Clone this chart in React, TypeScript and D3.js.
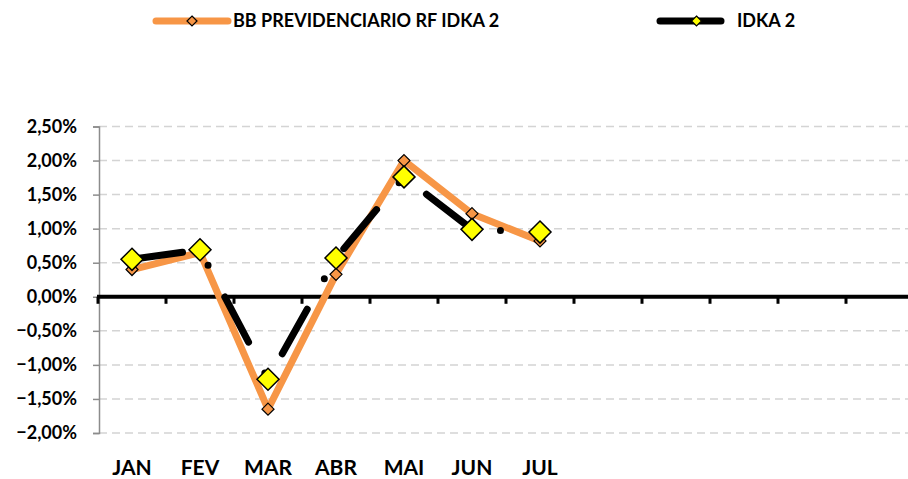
import React, { useRef, useEffect } from 'react';
import * as d3 from 'd3';

const months = ['JAN', 'FEV', 'MAR', 'ABR', 'MAI', 'JUN', 'JUL', '', '', '', '', ''];
const bbValues = [0.4, 0.65, -1.65, 0.33, 2.0, 1.22, 0.82];
const idkaValues = [0.55, 0.69, -1.21, 0.57, 1.76, 0.99, 0.95];
const yTicks = [-2, -1.5, -1, -0.5, 0, 0.5, 1, 1.5, 2, 2.5];
const seriesNames = ['BB PREVIDENCIARIO RF IDKA 2', 'IDKA 2'];

const FONT = 'Lato, "Open Sans", sans-serif';

const App = () => {
  const svgRef = useRef<SVGSVGElement>(null);

  useEffect(() => {
    const width = 908;
    const height = 479;
    const svg = d3.select(svgRef.current);
    svg.selectAll('*').remove();
    svg.attr('viewBox', `0 0 ${width} ${height}`);

    const x = d3.scaleBand<number>()
      .domain(months.map((_, i) => i))
      .range([98, 914]);
    const y = d3.scaleLinear().domain([-2, 2.5]).range([433, 126.5]);
    const cx = (i: number) => (x(i) || 0) + x.bandwidth() / 2;

    const fmt = (v: number) => d3.format('.2f')(v).replace('.', ',') + '%';

    // gridlines
    svg.append('g')
      .selectAll('line')
      .data(yTicks.filter((t) => t !== 0))
      .join('line')
      .attr('x1', 99).attr('x2', width)
      .attr('y1', (d) => y(d)).attr('y2', (d) => y(d))
      .attr('stroke', '#d4d4d4')
      .attr('stroke-width', 1.5)
      .attr('stroke-dasharray', '8 5');

    // y axis
    const yAxis = svg.append('g')
      .attr('transform', 'translate(99,0)')
      .call(d3.axisLeft(y).tickValues(yTicks).tickSize(6).tickPadding(16).tickFormat((d) => fmt(d as number)));
    yAxis.select('.domain').attr('stroke', '#8c8c8c').attr('stroke-width', 1.5);
    yAxis.selectAll('.tick line').attr('stroke', '#8c8c8c').attr('stroke-width', 1.5);
    yAxis.selectAll('text')
      .attr('font-family', FONT)
      .attr('font-weight', 'bold')
      .attr('font-size', 18)
      .attr('fill', '#000');

    // zero axis
    svg.append('line')
      .attr('x1', 97).attr('x2', width)
      .attr('y1', y(0)).attr('y2', y(0))
      .attr('stroke', '#000').attr('stroke-width', 4);
    svg.append('g')
      .selectAll('line')
      .data(d3.range(months.length))
      .join('line')
      .attr('x1', (i) => x(i) || 0).attr('x2', (i) => x(i) || 0)
      .attr('y1', y(0)).attr('y2', y(0) + 7)
      .attr('stroke', '#000').attr('stroke-width', 3);

    // month labels
    svg.append('g')
      .selectAll('text')
      .data(months)
      .join('text')
      .attr('x', (_, i) => cx(i))
      .attr('y', 475)
      .attr('text-anchor', 'middle')
      .attr('font-family', FONT)
      .attr('font-weight', 'bold')
      .attr('font-size', 21)
      .text((d) => d);

    const line = d3.line<number>()
      .x((_, i) => cx(i))
      .y((d) => y(d));

    const diamond = (s: number) => `M0,${-s}L${s},0L0,${s}L${-s},0Z`;

    // BB series
    svg.append('path')
      .datum(bbValues)
      .attr('fill', 'none')
      .attr('stroke', '#f79646')
      .attr('stroke-width', 7)
      .attr('stroke-linejoin', 'round')
      .attr('d', line);
    svg.append('g')
      .selectAll('path')
      .data(bbValues)
      .join('path')
      .attr('transform', (d, i) => `translate(${cx(i)},${y(d)})`)
      .attr('d', diamond(6))
      .attr('fill', '#f79646')
      .attr('stroke', '#000')
      .attr('stroke-width', 1.2);

    // IDKA series (long dash - dot)
    svg.append('path')
      .datum(idkaValues)
      .attr('fill', 'none')
      .attr('stroke', '#000')
      .attr('stroke-width', 7)
      .attr('stroke-linecap', 'round')
      .attr('stroke-dasharray', '51 35 0 36')
      .attr('stroke-dashoffset', 0)
      .attr('d', line);
    svg.append('g')
      .selectAll('path')
      .data(idkaValues)
      .join('path')
      .attr('transform', (d, i) => `translate(${cx(i)},${y(d)})`)
      .attr('d', diamond(11))
      .attr('fill', '#ffff00')
      .attr('stroke', '#000')
      .attr('stroke-width', 1.5);

    // legend
    const legend = [
      { x1: 156, x2: 228, tx: 233, stroke: '#f79646', fill: '#f79646', size: 5 },
      { x1: 660, x2: 721, tx: 737, stroke: '#000', fill: '#ffff00', size: 5 },
    ];
    legend.forEach((l, i) => {
      const g = svg.append('g');
      g.append('line')
        .attr('x1', l.x1).attr('x2', l.x2).attr('y1', 21).attr('y2', 21)
        .attr('stroke', l.stroke).attr('stroke-width', 7).attr('stroke-linecap', 'round');
      g.append('path')
        .attr('transform', `translate(${(l.x1 + l.x2) / 2 + (i === 1 ? 6 : 0)},21)`)
        .attr('d', diamond(l.size))
        .attr('fill', l.fill)
        .attr('stroke', '#000')
        .attr('stroke-width', 1.2);
      g.append('text')
        .attr('x', l.tx).attr('y', 27)
        .attr('font-family', FONT)
        .attr('font-weight', 'bold')
        .attr('font-size', 18)
        .text(seriesNames[i]);
    });
  }, []);

  return (
    <svg
      ref={svgRef}
      width={908}
      height={479}
      style={{ position: 'absolute', left: 0, top: 0, background: '#fff' }}
    />
  );
};

export default App;
